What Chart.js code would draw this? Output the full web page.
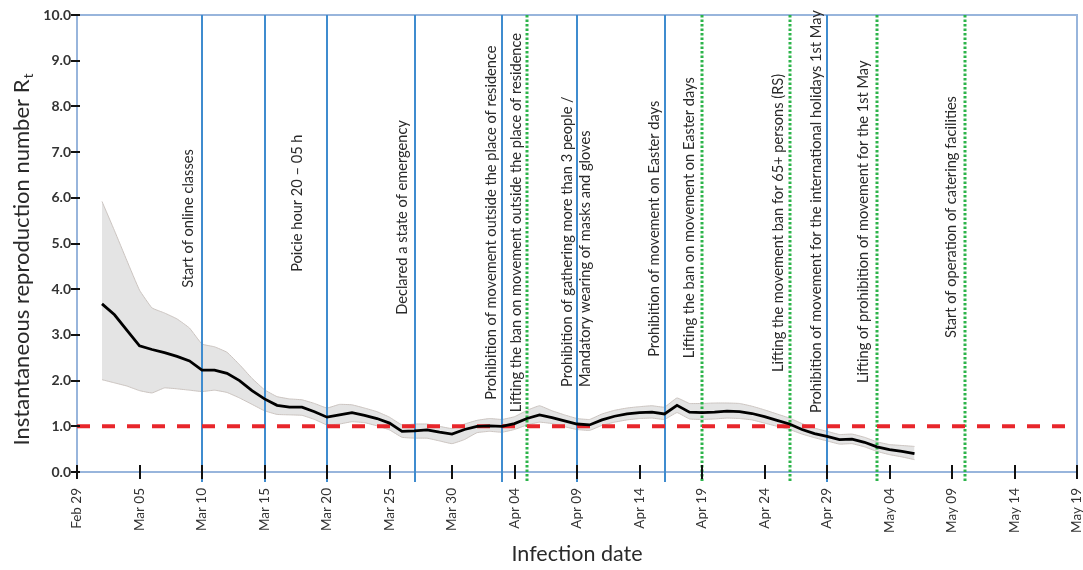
<!DOCTYPE html>
<html><head><meta charset="utf-8">
<script src="https://cdn.jsdelivr.net/npm/chart.js@4.4.0/dist/chart.umd.min.js"></script>
<style>html,body{margin:0;padding:0;background:#fff;}canvas{display:block;}</style>
</head><body>
<canvas id="c" width="1083" height="570"></canvas>
<script>
// ---------------- DATA ----------------
const tickLabels = ['Feb 29','Mar 05','Mar 10','Mar 15','Mar 20','Mar 25','Mar 30','Apr 04','Apr 09','Apr 14','Apr 19','Apr 24','Apr 29','May 04','May 09','May 14','May 19'];
const yTicks = [0,1,2,3,4,5,6,7,8,9,10];

const seriesDates = [
 'Mar 02','Mar 03','Mar 04','Mar 05','Mar 06','Mar 07','Mar 08','Mar 09','Mar 10','Mar 11',
 'Mar 12','Mar 13','Mar 14','Mar 15','Mar 16','Mar 17','Mar 18','Mar 19','Mar 20','Mar 21',
 'Mar 22','Mar 23','Mar 24','Mar 25','Mar 26','Mar 27','Mar 28','Mar 29','Mar 30','Mar 31',
 'Apr 01','Apr 02','Apr 03','Apr 04','Apr 05','Apr 06','Apr 07','Apr 08','Apr 09','Apr 10',
 'Apr 11','Apr 12','Apr 13','Apr 14','Apr 15','Apr 16','Apr 17','Apr 18','Apr 19','Apr 20',
 'Apr 21','Apr 22','Apr 23','Apr 24','Apr 25','Apr 26','Apr 27','Apr 28','Apr 29','Apr 30',
 'May 01','May 02','May 03','May 04','May 05','May 06'];

const rt = [
 3.68,3.44,3.10,2.76,2.68,2.61,2.53,2.43,2.23,2.23,
 2.16,2.00,1.78,1.60,1.46,1.42,1.42,1.32,1.20,1.25,
 1.30,1.24,1.17,1.07,0.89,0.90,0.92,0.87,0.83,0.93,
 1.00,1.01,1.00,1.06,1.17,1.25,1.19,1.12,1.05,1.03,
 1.14,1.22,1.27,1.30,1.31,1.27,1.46,1.31,1.30,1.31,
 1.33,1.32,1.28,1.21,1.13,1.05,0.93,0.84,0.78,0.71,
 0.72,0.65,0.55,0.49,0.45,0.40];

const rtUpper = [
 5.92,5.28,4.62,3.98,3.59,3.48,3.35,3.15,2.80,2.74,
 2.62,2.35,2.05,1.80,1.65,1.60,1.58,1.50,1.40,1.48,
 1.47,1.40,1.32,1.20,1.03,1.05,1.05,1.00,0.95,1.05,
 1.13,1.17,1.15,1.21,1.35,1.45,1.34,1.25,1.17,1.15,
 1.27,1.35,1.40,1.43,1.45,1.42,1.62,1.50,1.50,1.51,
 1.51,1.50,1.44,1.36,1.27,1.18,1.06,0.96,0.89,0.82,
 0.83,0.76,0.66,0.60,0.58,0.56];

const rtLower = [
 2.02,1.95,1.88,1.78,1.73,1.84,1.82,1.79,1.76,1.79,
 1.74,1.62,1.48,1.34,1.26,1.25,1.24,1.15,1.03,1.05,
 1.10,1.08,1.01,0.92,0.76,0.74,0.74,0.68,0.62,0.71,
 0.86,0.89,0.87,0.93,1.03,1.09,1.06,0.99,0.93,0.91,
 1.02,1.09,1.14,1.17,1.18,1.15,1.30,1.16,1.15,1.16,
 1.18,1.17,1.14,1.07,1.00,0.93,0.83,0.75,0.68,0.61,
 0.62,0.55,0.45,0.38,0.33,0.27];

const threshold = 1.0;

// measures introduced (solid blue) and lifted (dotted green)
const measureDates = ['Mar 10','Mar 15','Mar 20','Mar 27','Apr 03','Apr 09','Apr 16','Apr 29'];
const liftDates = ['Apr 05','Apr 19','Apr 26','May 03','May 10'];

const eventDates = ['Mar 10','Mar 20','Mar 27','Apr 03','Apr 05','Apr 09','Apr 16','Apr 19','Apr 26','Apr 29','May 03','May 10'];
const eventTexts = [
 ['Start of online classes'],
 ['Poicie hour 20 \u2013 05 h'],
 ['Declared a state of emergency'],
 ['Prohibition of movement outside the place of residence'],
 ['Lifting the ban on movement outside the place of residence'],
 ['Prohibition of gathering more than 3 people /','Mandatory wearing of masks and gloves'],
 ['Prohibition of movement on Easter days'],
 ['Lifting the ban on movement on Easter days'],
 ['Lifting the movement ban for 65+ persons (RS)'],
 ['Prohibition of movement for the international holidays 1st May'],
 ['Lifting of prohibition of movement for the 1st May'],
 ['Start of operation of catering facilities']];

// ---------------- LAYOUT (label placement, not data) ----------------
const labelDx = [-14,-30,-12,-11,-11,-10,-10,-13,-11,-11,-14,-13];   // px left of the event line
const labelStart = [4.03,4.38,3.44,1.58,1.31,1.86,2.52,2.49,2.19,1.29,1.95,2.93]; // Rt level where text begins

// ---------------- HELPERS ----------------
function dayIndex(s){
  const p = s.split(' ');
  const base = {Feb:-29, Mar:0, Apr:31, May:61}[p[0]];
  return base + parseInt(p[1],10);
}
const xs = seriesDates.map(dayIndex);
const pts = arr => arr.map((v,i)=>({x:xs[i], y:v}));
const FONT = 'Lato, "Open Sans", sans-serif';

const decorPlugin = {
  id:'decor',
  beforeDatasetsDraw(chart){
    const {ctx, chartArea:a} = chart;
    ctx.save();
    ctx.strokeStyle = '#98b5dc';
    ctx.lineWidth = 2;
    ctx.strokeRect(a.left, a.top, a.right-a.left, a.bottom-a.top);
    ctx.restore();
  },
  beforeDatasetDraw(chart, args){
    if (args.index !== 1) return;
    const {ctx, chartArea:a, scales:{x}} = chart;
    ctx.save();
    ctx.strokeStyle = '#3f8ccf';
    ctx.lineWidth = 2;
    measureDates.forEach(d=>{
      const px = Math.round(x.getPixelForValue(dayIndex(d)));
      ctx.beginPath(); ctx.moveTo(px, a.top); ctx.lineTo(px, a.bottom+10); ctx.stroke();
    });
    ctx.strokeStyle = '#2cb44a';
    ctx.lineWidth = 3;
    ctx.setLineDash([2.5,2]);
    liftDates.forEach(d=>{
      const px = Math.round(x.getPixelForValue(dayIndex(d)));
      ctx.beginPath(); ctx.moveTo(px, a.top); ctx.lineTo(px, a.bottom+10); ctx.stroke();
    });
    ctx.restore();
  },
  afterDatasetsDraw(chart){
    const {ctx, scales:{x,y}} = chart;
    ctx.save();
    ctx.fillStyle = '#2a2a2a';
    ctx.font = '14.6px ' + FONT;
    ctx.textAlign = 'left';
    ctx.textBaseline = 'middle';
    eventDates.forEach((d,i)=>{
      const px = x.getPixelForValue(dayIndex(d)) + labelDx[i];
      const py = y.getPixelForValue(labelStart[i]);
      eventTexts[i].forEach((t,j)=>{
        ctx.save();
        ctx.translate(px + j*18, py);
        ctx.rotate(-Math.PI/2);
        ctx.fillText(t, 0, 0);
        ctx.restore();
      });
    });
    ctx.restore();
  },
  afterDraw(chart){
    const {ctx, chartArea:a, scales:{x,y}} = chart;
    ctx.save();
    ctx.strokeStyle = '#111';
    ctx.lineWidth = 2;
    x.ticks.forEach(t=>{
      const px = Math.round(x.getPixelForValue(t.value));
      ctx.beginPath(); ctx.moveTo(px, a.bottom-7); ctx.lineTo(px, a.bottom+7); ctx.stroke();
    });
    y.ticks.forEach(t=>{
      const py = Math.round(y.getPixelForValue(t.value));
      ctx.beginPath(); ctx.moveTo(a.left-6, py); ctx.lineTo(a.left+3, py); ctx.stroke();
    });
    // y-axis title with subscript
    const main = 'Instantaneous reproduction number R', sub = 't';
    ctx.fillStyle = '#2a2a2a';
    ctx.textBaseline = 'middle';
    ctx.textAlign = 'left';
    ctx.translate(22, 260);
    ctx.rotate(-Math.PI/2);
    ctx.font = '22px ' + FONT;
    const w1 = ctx.measureText(main).width;
    ctx.font = '14px ' + FONT;
    const w2 = ctx.measureText(sub).width;
    const start = -(w1+w2)/2;
    ctx.font = '22px ' + FONT;
    ctx.fillText(main, start, 0);
    ctx.font = '14px ' + FONT;
    ctx.fillText(sub, start + w1 + 1, 6);
    ctx.restore();
  }
};

new Chart(document.getElementById('c').getContext('2d'), {
  type:'line',
  data:{datasets:[
    {label:'Rt', data:pts(rt), borderColor:'#000', borderWidth:2.8, pointRadius:0, tension:0, fill:false, order:1},
    {label:'threshold', data:[{x:0,y:threshold},{x:80,y:threshold}], borderColor:'#e8262b', borderWidth:4, borderDash:[13,12], pointRadius:0, fill:false, order:2},
    {label:'upper', data:pts(rtUpper), borderColor:'#cbc4c0', borderWidth:1, backgroundColor:'#e4e4e4', pointRadius:0, tension:0.1, fill:'+1', order:4},
    {label:'lower', data:pts(rtLower), borderColor:'#cbc4c0', borderWidth:1, pointRadius:0, tension:0.1, fill:false, order:3}
  ]},
  options:{
    responsive:false, animation:false, devicePixelRatio:1,
    layout:{padding:{left:0,right:6,top:15,bottom:0}},
    plugins:{legend:{display:false}, tooltip:{enabled:false}},
    scales:{
      x:{type:'linear', min:0, max:80,
        afterBuildTicks:s=>{ s.ticks = tickLabels.map(l=>({value:dayIndex(l)})); },
        afterFit:s=>{ s.height = 98; s.paddingLeft = 0; s.paddingRight = 0; },
        ticks:{autoSkip:false, maxRotation:90, minRotation:90, padding:9, color:'#333', font:{family:FONT, size:13.5},
          callback:(v,i)=>tickLabels[i]},
        grid:{drawOnChartArea:false, tickLength:7, tickColor:'rgba(0,0,0,0)'},
        border:{display:false},
        title:{display:true, text:'Infection date', color:'#2a2a2a', font:{family:FONT, size:21.5}, padding:{top:0,bottom:3}}
      },
      y:{min:0, max:10,
        afterBuildTicks:s=>{ s.ticks = yTicks.map(v=>({value:v})); },
        afterFit:s=>{ s.width = 77; s.paddingTop = 0; s.paddingBottom = 0; },
        ticks:{padding:1, color:'#333', font:{family:FONT, size:14, weight:'bold'}, callback:v=>Number(v).toFixed(1)},
        grid:{drawOnChartArea:false, tickLength:5, tickColor:'rgba(0,0,0,0)'},
        border:{display:false}
      }
    }
  },
  plugins:[decorPlugin]
});
</script>
</body></html>
